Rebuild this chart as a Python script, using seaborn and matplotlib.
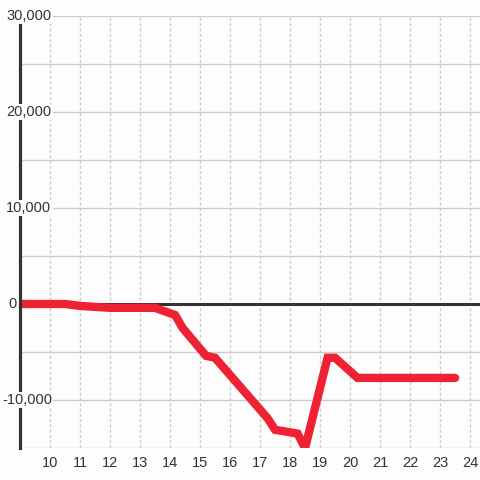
import numpy as np
import pandas as pd
import matplotlib
matplotlib.use("Agg")
import matplotlib.pyplot as plt
import matplotlib.transforms as mtransforms
import seaborn as sns

# hour of day and balance
hours = [9, 10.5, 11, 12, 13.5, 14.17, 14.42, 15.2, 15.5, 17.25, 17.5,
         18.25, 18.5, 19.25, 19.5, 20.25, 23.5]
values = [0, 0, -200, -400, -400, -1150, -2500, -5400, -5600, -11900,
          -13100, -13500, -15000, -5600, -5600, -7700, -7700]

x_ticks = list(range(10, 25))
y_ticks = [30000, 20000, 10000, 0, -10000]
y_tick_labels = ["30,000", "20,000", "10,000", "0", "-10,000"]

bg = "#fcfdfc"
ink = "#333333"
red = "#ee2233"

sns.set_style("white")
plt.rcParams["font.family"] = ["Liberation Sans", "DejaVu Sans"]

df = pd.DataFrame({"hour": hours, "value": values})

fig = plt.figure(figsize=(4.8, 4.8), dpi=100, facecolor=bg)
ax = fig.add_axes([20 / 480, 32 / 480, 460 / 480, 432 / 480])
ax.set_facecolor(bg)

ax.set_xlim(9, 24.33)
ax.set_ylim(-15000, 30000)

# grid: solid horizontal every 5000, dashed vertical every hour
for y in range(-15000, 30001, 5000):
    ax.axhline(y, color="#cccccc", lw=1, zorder=1)
for x in x_ticks:
    ax.axvline(x, color="#cccccc", lw=1, ls=(0, (2.2, 1.6)), zorder=1)

ax.axhline(0, color=ink, lw=2.2, zorder=2)

sns.lineplot(data=df, x="hour", y="value", ax=ax, color=red, lw=6,
             zorder=3, solid_joinstyle="miter")

for s in ["top", "right", "bottom"]:
    ax.spines[s].set_visible(False)
ax.spines["left"].set_color(ink)
ax.spines["left"].set_linewidth(2.3)
ax.spines["left"].set_zorder(4)

ax.set_xticks(x_ticks)
ax.set_xticklabels([str(t) for t in x_ticks])
ax.tick_params(axis="x", length=0, pad=6, labelsize=10.5, labelcolor=ink)
ax.set_yticks([])
ax.set_xlabel("")
ax.set_ylabel("")

# y labels sit on top of the spine with a background box
trans = mtransforms.blended_transform_factory(fig.transFigure, ax.transData)
for y, lab in zip(y_ticks, y_tick_labels):
    x0 = 2 / 480 if lab.startswith("-") else (8 / 480 if lab == "0" else 6 / 480)
    ax.text(x0, y, lab, transform=trans, ha="left", va="center",
            fontsize=10.5, color=ink, zorder=5, clip_on=False,
            bbox=dict(facecolor=bg, edgecolor="none", pad=1))

fig.savefig("out.png", dpi=100, facecolor=bg)
